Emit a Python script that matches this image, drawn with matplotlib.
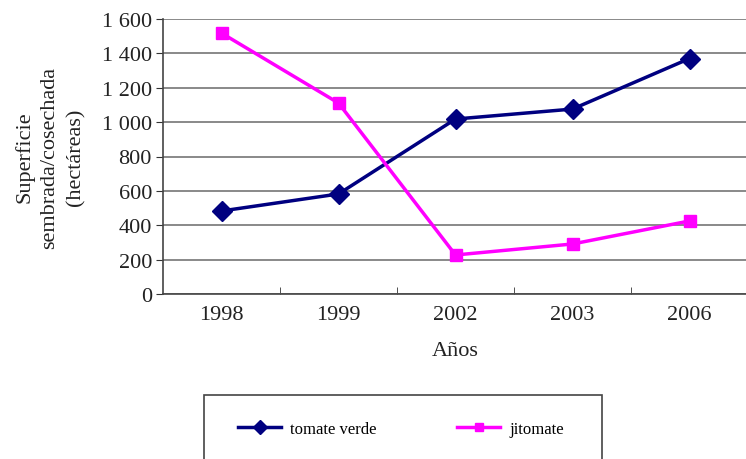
import matplotlib.pyplot as plt
from matplotlib.patches import Rectangle

plt.rcParams['font.family'] = ['Liberation Serif', 'DejaVu Serif']

years = ['1998', '1999', '2002', '2003', '2006']
tomate_verde = [483, 582, 1018, 1076, 1370]
jitomate = [1518, 1111, 227, 291, 425]
yticks = [0, 200, 400, 600, 800, 1000, 1200, 1400, 1600]
ytick_labels = ['0', '200', '400', '600', '800', '1 000', '1 200', '1 400', '1 600']

W, H = 746, 460
fig = plt.figure(figsize=(W / 100, H / 100), dpi=100)
# axes box in pixels: left 163, right 748, top 20, bottom 295
ax = fig.add_axes([163 / W, 1 - 295 / H, 585 / W, 275 / H])

x = range(len(years))
ax.plot(x, tomate_verde, color='#000080', lw=2.5, marker='D', ms=10, label='tomate verde', zorder=3)
ax.plot(x, jitomate, color='#ff00ff', lw=2.5, marker='s', ms=8, label='jitomate', zorder=3)

ax.set_xlim(-0.5, len(years) - 0.5)
ax.set_ylim(0, 1600)
ax.set_yticks(yticks)
ax.set_yticklabels(ytick_labels, fontsize=16, color='#222222')
ax.set_xticks(list(x))
ax.set_xticklabels(years, fontsize=16, color='#222222')
ax.set_xticks([i + 0.5 for i in range(len(years) - 1)], minor=True)
ax.tick_params(axis='x', which='major', length=0, pad=8)
ax.tick_params(axis='x', which='minor', length=5, direction='in', color='#333333')
ax.tick_params(axis='y', length=5, direction='out', color='#333333', pad=3)
ax.grid(axis='y', color='#808080', lw=1.3)
ax.set_axisbelow(True)
for s in ['top', 'right']:
    ax.spines[s].set_visible(False)
for s in ['left', 'bottom']:
    ax.spines[s].set_color('#444444')
    ax.spines[s].set_linewidth(1.2)

ax.set_xlabel('Años', fontsize=16, color='#222222', labelpad=12)
ax.set_ylabel('Superficie\nsembrada/cosechada\n(hectáreas)', fontsize=16, color='#222222',
              labelpad=12, linespacing=1.45)

# legend box (cut off at the bottom of the image)
fig.patches.append(Rectangle((204 / W, -0.05), 398 / W, 0.05 + (H - 396) / H,
                             transform=fig.transFigure, fill=False, ec='#444444', lw=1.2))
fig.legend(loc='center', bbox_to_anchor=(401 / W, 1 - 430 / H), ncol=2, frameon=False,
           fontsize=12, handlelength=2.6, handletextpad=0.55, columnspacing=4.8,
           markerscale=0.75)

fig.savefig('out.png', dpi=100)
